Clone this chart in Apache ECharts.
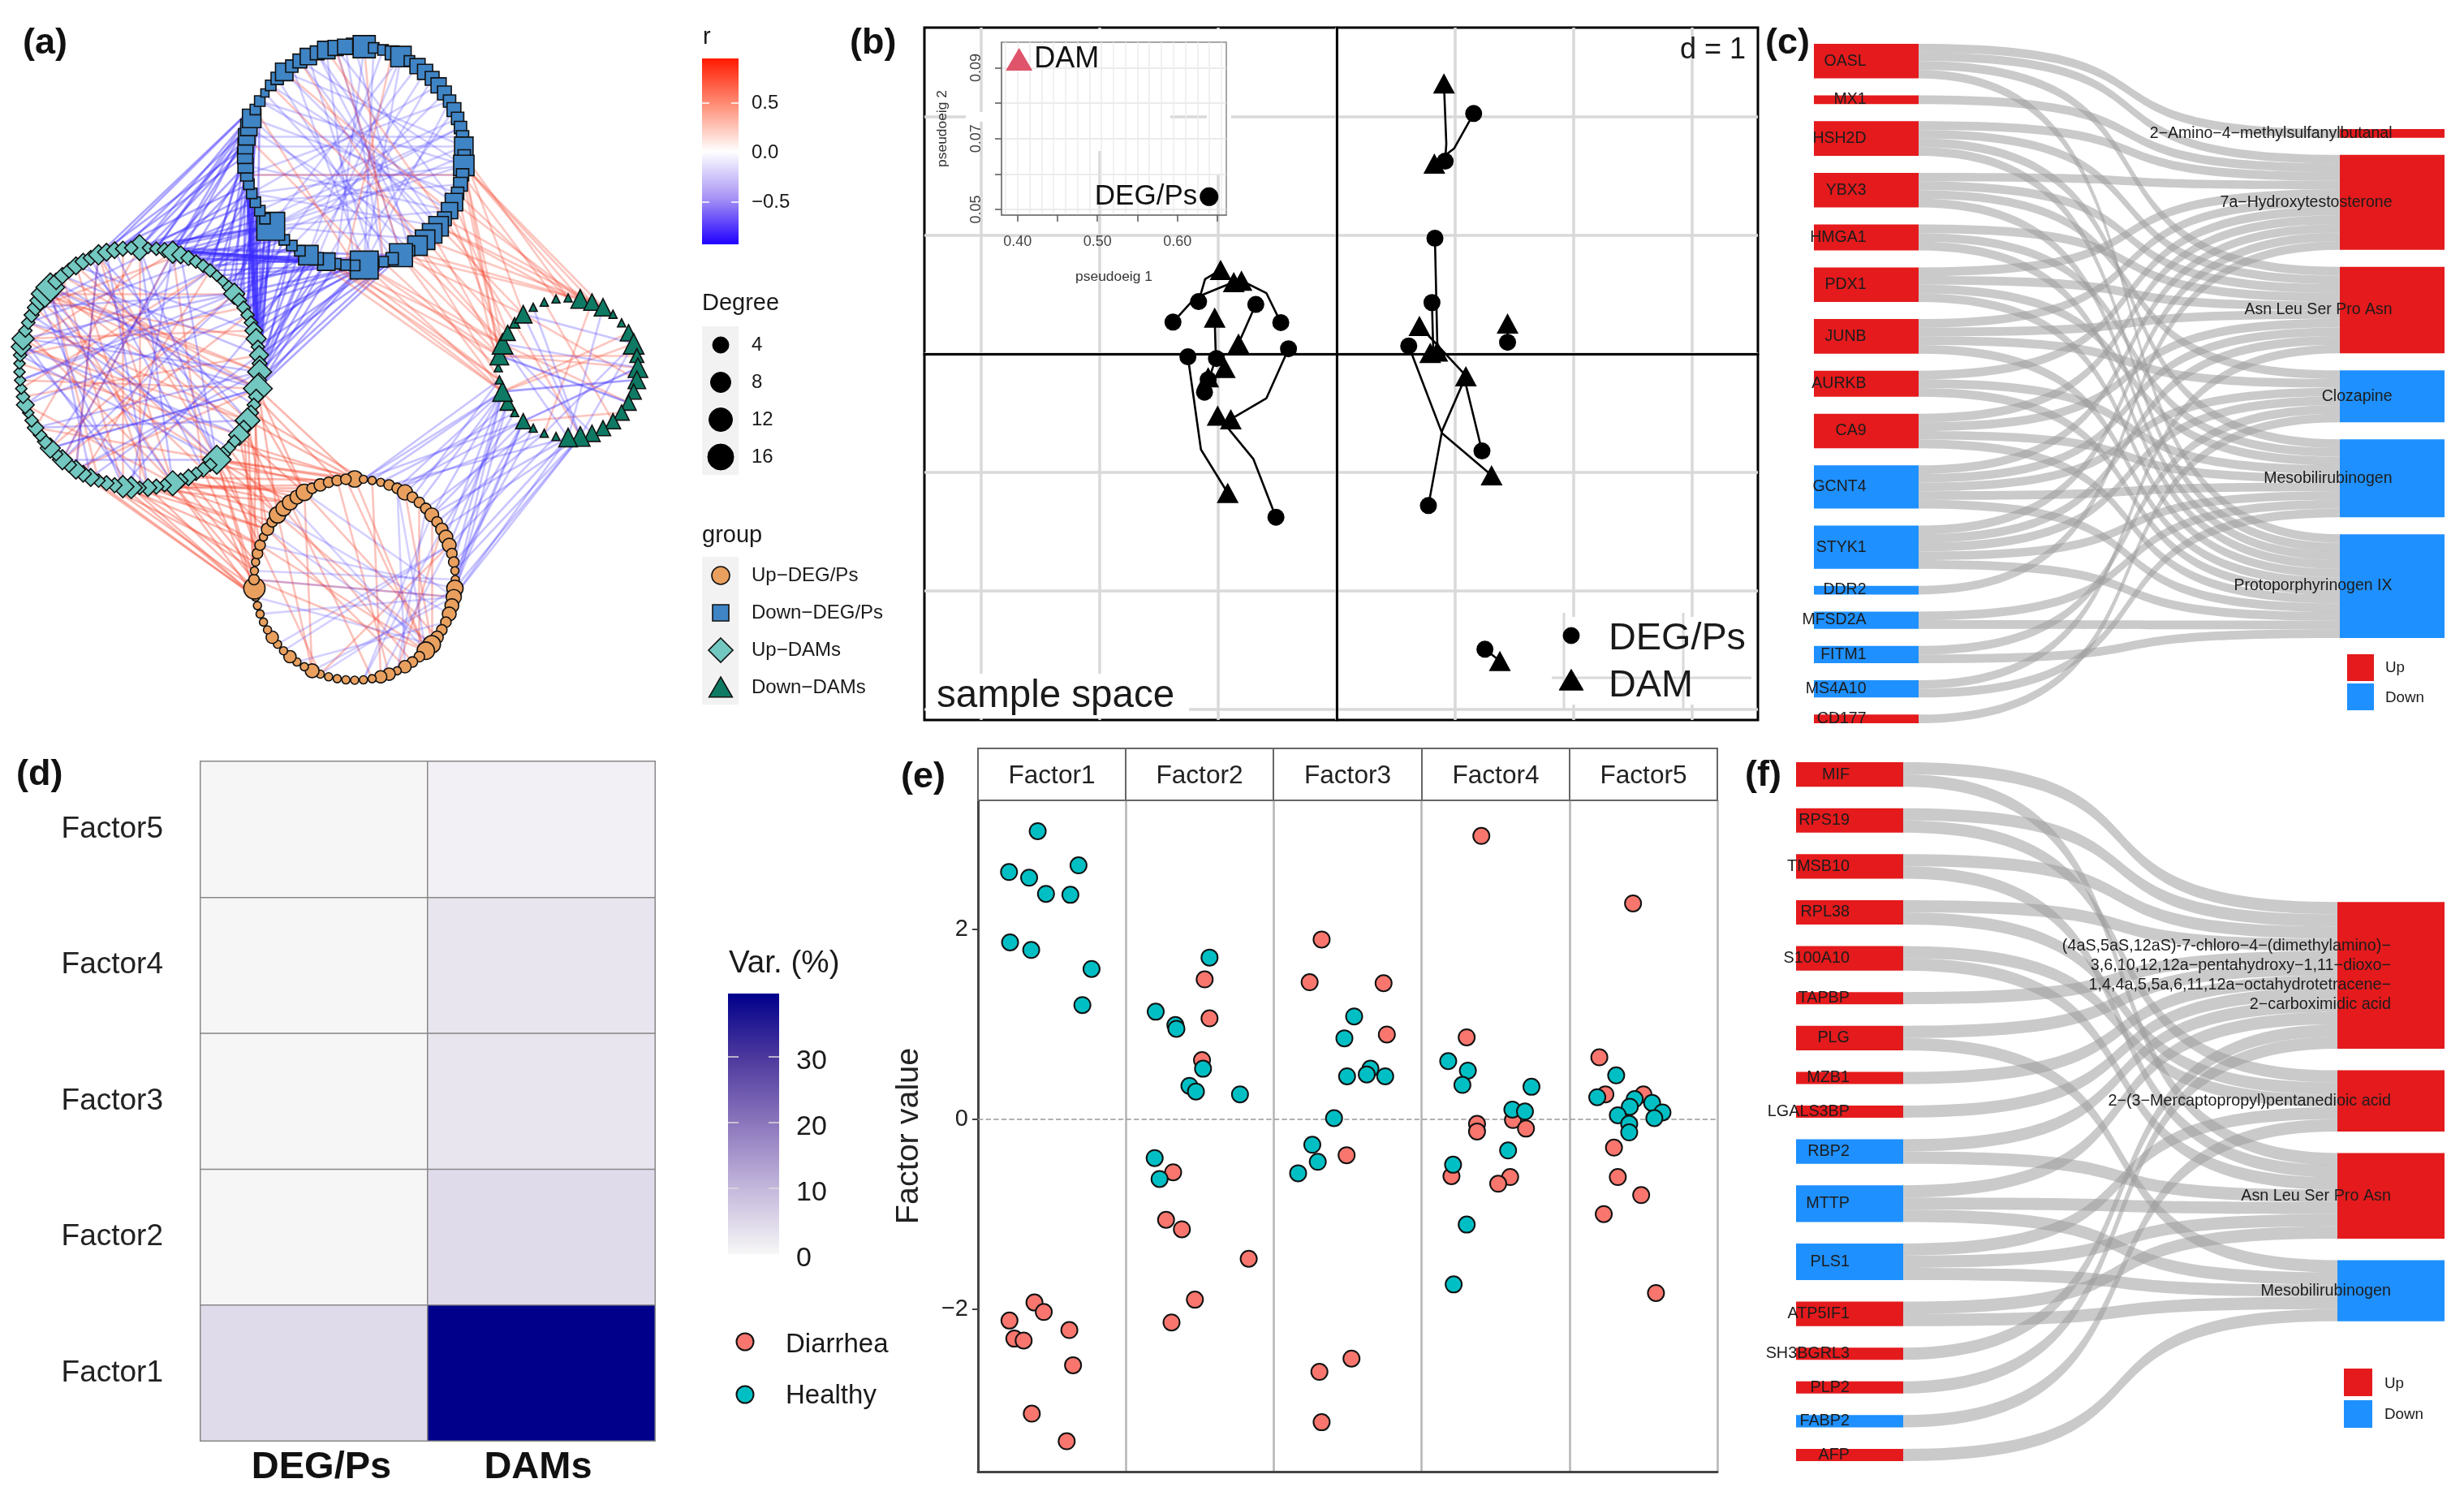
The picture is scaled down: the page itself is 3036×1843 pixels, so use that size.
<!DOCTYPE html>
<html><head><meta charset="utf-8">
<style>html,body{margin:0;padding:0;background:#fff}#c{width:3036px;height:1843px}</style>
<script src="https://cdn.jsdelivr.net/npm/echarts@6/dist/echarts.min.js"></script>
</head><body><div id="c"></div>
<script>
// ---------- (a) network: node degree around each ring, clockwise from the top
const degreeDownDEG=[6,12,2,2,4,10,2,5,5,4,5,4,3,4,3,3,3,8,3,10,3,4,3,7,6,4,9,9,9,9,2,13,3,2,2,20,2,2,2,7,3,9,2,2,2,3,20,2,2,2,2,2,3,5,5,5,6,6,8,2,2,1,2,3,7,3,4,6,4,7,5,5];
const degreeUpDAM=[14,2,3,4,10,6,4,3,3,3,2,2,3,9,4,3,3,3,6,8,3,7,4,12,4,18,4,3,4,13,4,9,3,3,4,18,3,4,3,5,4,13,3,4,6,3,10,10,4,4,3,6,5,7,4,8,3,8,4,3,5,3,2,6,3,2,2,2,2,3,8,10,3,3,4,5,8,16,18,5,5,4,6,5,4,8,6,5,4,3];
const degreeUpDEG=[6,1,1,1,2,2,5,2,2,2,4,2,3,4,4,2,2,1,1,6,5,4,4,2,2,3,7,7,2,2,3,1,3,3,1,1,1,1,1,1,1,4,1,1,3,1,1,3,1,1,1,1,1,11,2,1,1,2,2,1,3,2,6,5,5,4,6,2,3,2,2,2];
const degreeDownDAM=[1,8,6,7,1,1,6,10,4,9,7,5,5,5,5,5,6,9,8,1,1,1,5,1,5,9,1,1,8,10,5,2,7,1,1,1];
// edges as flat pairs of ring positions
const edgesBlueTeal=[31,2,31,8,31,15,31,21,31,25,32,24,33,13,33,20,33,4,34,17,35,1,35,4,35,6,35,10,35,14,35,18,35,22,35,25,35,23,36,9,37,19,38,25,38,6,39,0,39,5,39,12,39,21,39,24,40,3,41,7,41,13,41,18,41,23,41,25,42,1,42,22,43,11,44,16,45,8,45,18,46,0,46,2,46,4,46,5,46,9,46,12,46,15,46,18,46,21,46,23,46,25,46,87,47,20,47,2,47,24,48,3,49,14,49,0,49,21,50,8,50,24,51,86,51,7,51,12,52,10,52,19,53,6,53,25,53,3,54,22,54,87,54,15,55,1,55,17,55,85,56,13,56,4,56,20,57,5,57,21,57,88,58,11,58,23,59,0,59,4,59,16,60,86,60,9,60,85,60,14,60,2,60,19,37,3,37,11,40,17,40,23,43,20,43,25,44,5,44,9,48,13,48,22,50,1,50,16,52,4,52,25,55,9,55,23,56,0,58,2,58,18];
const edgesBlueGreen=[18,32,18,0,19,1,19,2,19,3,19,29,19,28,20,35,20,28,22,0,22,27,23,30,23,1,24,29,25,3,25,31,26,32,26,3,26,0,27,28,28,2,28,30,29,26,29,29,30,29,30,1,31,25,31,28,31,32,31,2,33,27,35,25,35,28,35,29,37,26,38,25,38,29,39,28,39,26,41,25];
const edgesTealUpDEG=[25,62,25,0,25,66,26,70,27,59,28,1,29,54,29,60,29,0,30,63,31,58,31,66,32,0,33,1,34,57,35,52,35,54,35,58,35,62,35,64,35,68,35,71,35,0,36,69,37,60,38,65,39,56,39,70,40,55,41,52,41,54,41,62,41,66,42,61,43,58,44,53,44,60,44,68,45,67,46,52,46,55,46,60,47,52,47,58,47,64,49,53,51,52,51,56,53,52,26,54,27,66,30,52,33,62,37,53,40,64];
const edgesUpDEGGreen=[1,25,1,26,1,22,2,25,3,23,4,18,5,25,5,22,5,20,6,24,7,26,8,25,9,21,10,22,10,25,10,18,11,20,12,17,12,23,13,25,14,19,14,24,15,22,16,18,16,25,17,17,17,21,18,22,19,17,19,25,19,22,20,18,20,24,20,17];
const withinBlueNeg=[0,30,2,35,5,40,5,46,7,44,10,50,12,52,14,48,17,55,17,46,19,60,19,50,22,58,23,62,26,64,26,50,27,66,29,68,31,70,31,58,35,5,35,12,35,65,38,1,41,8,46,15,46,19,46,24,46,28,52,20,56,16,60,24,64,17,66,19,70,23,68,26,71,33,3,41,9,39,11,43,13,37,15,47,18,45,21,49,24,53,28,57,30,61,32,63,34,67,36,69];
const withinBluePos=[69,25,66,29,70,31,59,36,56,34,62,28,1,33,64,24,4,37,52,20];
const withinTealPos=[0,45,78,30,77,25,71,35,85,41,82,44,78,41,77,23,76,19,70,29,75,37,80,47,4,55,78,50,85,53,71,18,77,13,75,5,0,60,70,4,66,25,64,21,60,35,57,13,55,16,53,25,52,9,85,35,82,29,80,25,78,23,76,35,73,29,72,41,69,15,68,31,65,9,63,41,88,47,4,37];
const withinTealNeg=[0,41,4,46,13,55,5,57,87,35,78,25,77,35,71,23,71,13,70,31,85,29,82,18,80,21,75,13,73,25,69,35,66,13,63,9,60,23,57,25,55,4,53,85,51,78,47,76,46,71,44,70,41,77,35,0,35,5,35,55,29,60,25,57,23,53,21,51,18,47,16,63,14,66,9,69,7,73,2,75,86,44,84,37,83,31,79,27,74,33];
const withinUpDEGPos=[62,26,62,41,66,41,0,27,66,25,54,27,60,30,58,40,64,34,70,32,6,26,10,26,14,40,54,20,2,33,71,27,63,29,8,28,12,31,58,27];
const withinUpDEGNeg=[54,20,5,30,10,35,14,45,20,50,19,40,26,60,27,64,33,14,22,62,20,66,19,58,18,55,26,52,27,5,31,9,35,12,41,20,43,23,46,14];
const withinGreenPos=[29,12,28,9,25,7,32,10,22,13,34,14,31,17,2,20,6,25,8,28];
const withinGreenNeg=[29,9,25,10,28,12,22,9,32,7,33,17,20,7,18,29,16,29,17,32,3,18,10,25,9,22,7,17,12,28];
const rTicks=[0.5,0,-0.5];
const degreeKeys=[4,8,12,16];
const groupNames=['Up−DEG/Ps','Down−DEG/Ps','Up−DAMs','Down−DAMs'];

// ---------- (b) co-inertia sample space
const degPsPoints=[[-1.166,0.441],[-1.382,0.268],[-0.472,0.264],[-0.683,0.417],[-1.116,-0.323],[-1.015,-0.039],[-1.085,-0.217],[-0.407,0.043],[-1.256,-0.024],[-0.513,-1.378],[1.156,2.028],[0.915,1.626],[0.829,0.976],[0.804,0.433],[1.226,-0.819],[0.774,-1.280],[0.608,0.067],[1.442,0.098],[1.251,-2.492]];
const damPoints=[[-0.980,0.709],[-0.869,0.606],[-0.804,0.618],[-0.829,0.087],[-1.030,0.307],[-0.945,-0.118],[-1.085,-0.197],[-0.894,-0.551],[-0.920,-1.173],[-1.005,-0.520],[0.824,1.606],[0.905,2.283],[0.849,0.020],[0.789,0.008],[0.698,0.236],[1.090,-0.189],[1.307,-1.024],[1.442,0.256],[1.377,-2.591]];
const pairBends=[[-1.111,0.630],[-1.196,0.472],[-0.593,0.512],null,[-1.020,-0.039],null,null,[-0.593,-0.374],[-1.146,-0.807],[-0.704,-0.886],[0.990,1.732],[0.925,1.772],[0.849,0.079],[0.814,0.059],[1.065,-0.157],[0.889,-0.650],[0.889,-0.669],null,null];
const gridUnitsX=[-3,-2,-1,0,1,2,3];
const gridUnitsY=[-3,-2,-1,0,1,2];
const eigDAM=[0.402,0.0924];
const eigDEG=[0.6396,0.0536];
const eigTicksX=[0.40,0.45,0.50,0.55,0.60,0.65];
const eigLabelsX=[0.40,0.50,0.60];
const eigTicksY=[0.05,0.06,0.07,0.08,0.09];
const eigLabelsY=[0.05,0.07,0.09];
const eigFaintX=[0.385,0.4,0.415,0.43,0.445,0.46,0.475,0.49,0.505,0.52,0.535,0.55,0.565,0.58,0.595,0.61,0.625,0.64,0.655];

// ---------- (c) sankey
const genesC=['OASL','MX1','HSH2D','YBX3','HMGA1','PDX1','JUNB','AURKB','CA9','GCNT4','STYK1','DDR2','MFSD2A','FITM1','MS4A10','CD177'];
const genesCDown=['GCNT4','STYK1','DDR2','MFSD2A','FITM1','MS4A10'];
const metabC=['2−Amino−4−methylsulfanylbutanal','7a−Hydroxytestosterone','Asn Leu Ser Pro Asn','Clozapine','Mesobilirubinogen','Protoporphyrinogen IX'];
const metabCDown=['Clozapine','Mesobilirubinogen','Protoporphyrinogen IX'];
const targetsC=[[0,1,2,5],[1],[1,2,4,5],[1,2,3,5],[2,4,5],[1,2,4,5],[1,2,3,5],[1,4,5],[1,2,4,5],[1,2,3,4,5],[1,2,3,4,5],[1],[4,5],[3,5],[2,4],[3]];

// ---------- (d) variance heatmap
const factorNames=['Factor1','Factor2','Factor3','Factor4','Factor5'];
const viewNames=['DEG/Ps','DAMs'];
const varDEG=[4.3,0.1,0.1,0.1,0.1];
const varDAM=[38.5,4.3,2.7,2.8,1];
const varTicks=[0,10,20,30];

// ---------- (e) factor values: position across the strip, value
const diarrheaPts=[[0.382,-1.93],[0.445,-2.03],[0.213,-2.12],[0.246,-2.31],[0.309,-2.33],[0.618,-2.22],[0.643,-2.59],[0.364,-3.10],[0.6,-3.39],
[1.533,1.47],[1.566,1.06],[1.515,0.62],[1.32,-0.56],[1.272,-1.06],[1.379,-1.16],[1.831,-1.47],[1.467,-1.90],[1.309,-2.14],
[2.324,1.89],[2.243,1.44],[2.743,1.43],[2.765,0.89],[2.493,-0.38],[2.526,-2.52],[2.309,-2.66],[2.324,-3.19],
[3.404,2.98],[3.305,0.86],[3.375,-0.05],[3.375,-0.13],[3.618,-0.01],[3.706,-0.10],[3.202,-0.60],[3.599,-0.61],[3.518,-0.68],
[4.43,2.27],[4.202,0.65],[4.243,0.26],[4.5,0.26],[4.301,-0.30],[4.327,-0.61],[4.485,-0.80],[4.232,-1.0],[4.585,-1.83]];
const healthyPts=[[0.404,3.03],[0.21,2.60],[0.346,2.54],[0.46,2.37],[0.625,2.36],[0.68,2.67],[0.217,1.86],[0.36,1.78],[0.768,1.58],[0.706,1.20],
[1.566,1.70],[1.202,1.13],[1.335,0.99],[1.342,0.95],[1.522,0.53],[1.43,0.35],[1.474,0.29],[1.772,0.26],[1.195,-0.41],[1.228,-0.63],
[2.544,1.08],[2.478,0.85],[2.654,0.53],[2.629,0.47],[2.496,0.45],[2.754,0.45],[2.408,0.01],[2.261,-0.27],[2.298,-0.45],[2.165,-0.57],
[3.18,0.61],[3.313,0.51],[3.276,0.36],[3.743,0.34],[3.614,0.10],[3.699,0.08],[3.585,-0.33],[3.213,-0.48],[3.305,-1.11],[3.217,-1.74],
[4.316,0.46],[4.188,0.23],[4.441,0.21],[4.559,0.17],[4.408,0.13],[4.327,0.04],[4.629,0.07],[4.574,0.01],[4.404,-0.05],[4.404,-0.14]];
const factorTicks=[-2,0,2];
const stripEdges=[1,2,3,4,5];

// ---------- (f) sankey
const genesF=['MIF','RPS19','TMSB10','RPL38','S100A10','TAPBP','PLG','MZB1','LGALS3BP','RBP2','MTTP','PLS1','ATP5IF1','SH3BGRL3','PLP2','FABP2','AFP'];
const genesFDown=['RBP2','MTTP','PLS1','FABP2'];
const metabF=['(4aS,5aS,12aS)-7-chloro−4−(dimethylamino)−\n3,6,10,12,12a−pentahydroxy−1,11−dioxo−\n1,4,4a,5,5a,6,11,12a−octahydrotetracene−\n2−carboximidic acid','2−(3−Mercaptopropyl)pentanedioic acid','Asn Leu Ser Pro Asn','Mesobilirubinogen'];
const metabFDown=['Mesobilirubinogen'];
const targetsF=[[0,2],[0,1],[0,2],[0,1],[1,2],[0],[0,3],[0],[0],[0,2],[0,2,3],[1,2,3],[2,3],[0],[0],[1],[3]];

// ---------- styling / layout
const FONT='Liberation Sans', INK='#1a1a1a', RED='#E41A1C', BLUE='#1E90FF';
const ORANGE='#E9A05F', STEEL='#3F84C4', TEAL='#72C8C0', GREEN='#0E7A64';
const COLD='#3A2CFF', HOT='#F4442E', DIAR='#F8766D', HEAL='#00BFC4';
const heatColors=['#f7f7f7','#c4b8dc','#8c77bd','#4e3a9e','#00008b'];
const sizeOf=d=>3+7*Math.sqrt(d);

// ring helper: places nodes evenly on a circle
const rings=[
 {deg:degreeDownDEG,cx:437,cy:192,r:135,sym:'rect',color:STEEL},
 {deg:degreeUpDAM,cx:172,cy:453,r:148,sym:'diamond',color:TEAL},
 {deg:degreeUpDEG,cx:437,cy:714,r:124,sym:'circle',color:ORANGE},
 {deg:degreeDownDAM,cx:700,cy:453,r:86,sym:'triangle',color:GREEN}];
let off=0; const nodes=[];
rings.forEach(g=>{g.off=off;g.deg.forEach((d,i)=>{const a=i/g.deg.length*2*Math.PI;
 nodes.push({value:[g.cx+g.r*Math.sin(a),g.cy-g.r*Math.cos(a)],symbol:g.sym,symbolSize:g.sym==='diamond'?sizeOf(d)*1.08:sizeOf(d),itemStyle:{color:g.color,borderColor:'#111',borderWidth:1.6}});});off+=g.deg.length;});
const links=[];
function addEdges(arr,a,b,col,op){for(let i=0;i<arr.length;i+=2)links.push({source:rings[a].off+arr[i],target:rings[b].off+arr[i+1],lineStyle:{color:col,opacity:op,width:2.6,curveness:0}});}
addEdges(edgesBlueTeal,0,1,COLD,.42);addEdges(edgesBlueGreen,0,3,HOT,.3);addEdges(edgesTealUpDEG,1,2,HOT,.38);addEdges(edgesUpDEGGreen,2,3,COLD,.28);
addEdges(withinBlueNeg,0,0,COLD,.24);addEdges(withinBluePos,0,0,HOT,.3);addEdges(withinTealPos,1,1,HOT,.32);addEdges(withinTealNeg,1,1,COLD,.3);
addEdges(withinUpDEGPos,2,2,HOT,.32);addEdges(withinUpDEGNeg,2,2,COLD,.22);addEdges(withinGreenPos,3,3,HOT,.3);addEdges(withinGreenNeg,3,3,COLD,.26);

// sankey builder
function sankey(genes,genesDown,metab,metabDown,targets,box,gap,fs){
 const counts=metab.map((_,m)=>targets.reduce((s,t)=>s+t.filter(x=>x===m).length,0));
 const total=counts.reduce((a,b)=>a+b,0);
 const unit=(box.height-(genes.length-1)*gap)/total;
 const colH=total*unit+(metab.length-1)*gap;
 let y=(box.height-colH)/2;
 const lab={position:'inside',align:'right',color:'#1c1c1c',fontSize:fs,fontFamily:FONT,lineHeight:fs*1.2,padding:[3,0,0,0]};
 const data=genes.map(n=>({name:n,depth:0,itemStyle:{color:genesDown.includes(n)?BLUE:RED},label:lab}));
 metab.forEach((n,m)=>{data.push({name:n,depth:1,localY:y/box.height,itemStyle:{color:metabDown.includes(n)?BLUE:RED},label:lab});y+=counts[m]*unit+gap;});
 const ls=[];targets.forEach((t,g)=>t.forEach(m=>ls.push({source:genes[g],target:metab[m],value:1})));
 return {type:'sankey',...box,nodeWidth:box.nw,nodeGap:gap,layoutIterations:0,orient:'horizontal',draggable:false,silent:true,
  emphasis:{disabled:true},data,links:ls,label:lab,itemStyle:{borderWidth:0},lineStyle:{color:'#9a9a9a',opacity:.52,curveness:.7}};
}

// b line series: circle -> optional bend -> triangle, broken between pairs
const pairLines=[];
degPsPoints.forEach((c,i)=>{pairLines.push(c);if(pairBends[i])pairLines.push(pairBends[i]);pairLines.push(damPoints[i]);pairLines.push([c[0],'-']);});

// graphic helpers
const T=(text,x,y,size,o={})=>({type:'text',z:10,silent:true,style:Object.assign({text,x,y,fontSize:size,fontFamily:FONT,fill:INK,align:'left',textAlign:'left',verticalAlign:'middle',textVerticalAlign:'middle'},o)});
const R=(x,y,w,h,fill,z=10,extra={})=>({type:'rect',z,silent:true,shape:{x,y,width:w,height:h},style:Object.assign({fill},extra)});
const L=(x1,y1,x2,y2,stroke,w,z=10)=>({type:'line',z,silent:true,shape:{x1,y1,x2,y2},style:{stroke,lineWidth:w}});
const Tri=(x,y,s,fill,stroke,lw)=>({type:'polygon',z:10,silent:true,shape:{points:[[x,y-s*.5],[x+s*.55,y+s*.45],[x-s*.55,y+s*.45]]},style:{fill,stroke,lineWidth:lw}});
const Circ=(x,y,r,fill,stroke,lw)=>({type:'circle',z:10,silent:true,shape:{cx:x,cy:y,r},style:{fill,stroke,lineWidth:lw}});
const G=[];
[['(a)',28,54],['(b)',1047,54],['(c)',2175,54],['(d)',20,955],['(e)',1110,958],['(f)',2150,956]].forEach(p=>G.push(T(p[0],p[1],p[2],45,{fontWeight:'bold',fill:'#111'})));

// a legends
G.push(T('r',866,46,29));
G.push(R(865,72,45,229,new echarts.graphic.LinearGradient(0,0,0,1,[{offset:0,color:'#ff1a00'},{offset:.25,color:'#ff8f78'},{offset:.5,color:'#ffffff'},{offset:.75,color:'#a894f5'},{offset:1,color:'#2000ff'}])));
rTicks.forEach(v=>{const y=188-v*122;G.push(L(865,y,874,y,'#fff',1.5),L(901,y,910,y,'#fff',1.5),T((v<0?'−':'')+Math.abs(v).toFixed(1),926,y,24));});
G.push(T('Degree',865,374,29),R(865,402,45,183,'#f2f2f2'));
degreeKeys.forEach((d,i)=>{const y=425+i*46;G.push(Circ(888,y,[10,12.5,14.5,16][i],'#000','#000',1),T(String(d),926,y,24));});
G.push(T('group',865,660,29),R(865,686,45,182,'#f2f2f2'));
groupNames.forEach((n,i)=>G.push(T(n,926,709+i*46,24)));
G.push(Circ(888,709,11,ORANGE,'#111',1.6),R(878,745,20,20,STEEL,10,{stroke:'#111',lineWidth:1.6}));
G.push({type:'polygon',z:10,silent:true,shape:{points:[[888,786],[903,801],[888,816],[873,801]]},style:{fill:TEAL,stroke:'#111',lineWidth:1.6}});
G.push(Tri(888,847,26,GREEN,'#111',1.6));

// b masks, fragments and labels
const grey='#d9d9d9';
G.push(R(1190,138,252,12,'#fff',1),R(1227,34+2,175,150,'#fff',1),R(1487,36,30,180,'#fff',1));
G.push(R(1141,830,324,55,'#fff',1),R(1902,760,262,108,'#fff',1));
G.push(L(1927,755,1927,875,grey,3,1),L(2074,755,2074,875,grey,3,1),L(1912,835,2158,835,grey,3,1));
G.push(T('d = 1',2151,62,36,{align:'right',textAlign:'right'}),T('sample space',1154,858,47.5));
G.push(Circ(1936,783,10,'#000','#000',1),Tri(1936,838,27,'#000','#000',1),T('DEG/Ps',1982,787,46.8),T('DAM',1982,845,46.8));

// c, f legends
G.push(R(2892,806,33,33,RED),R(2892,842,33,33,BLUE),T('Up',2939,823,18.8),T('Down',2939,860,18.8));
G.push(R(2888,1686,35,34,RED),R(2888,1725,35,34,BLUE),T('Up',2938,1705,18.8),T('Down',2938,1743,18.8));

// d legend
const vy=v=>1545-v*8.1;
G.push(T('Var. (%)',898,1187,38.6));
G.push(R(897,1224,63,321,new echarts.graphic.LinearGradient(0,1,0,0,heatColors.map((c,i)=>({offset:i/4,color:c})))));
varTicks.forEach(v=>{const y=vy(v);if(v)G.push(L(897,y,910,y,'#ddd',1.5),L(947,y,960,y,'#ddd',1.5));G.push(T(String(v),981,y+6,34));});
G.push(Circ(918,1653,10.5,DIAR,'#111',2),T('Diarrhea',968,1657,33),Circ(918,1718,10.5,HEAL,'#111',2),T('Healthy',968,1720,33));

// e strips
const sx=[1205,1387,1569,1752,1934,2116];
factorNames.forEach((n,i)=>{G.push(R(sx[i],922,sx[i+1]-sx[i],64,'#fff',10,{stroke:'#666',lineWidth:2}),T(n,(sx[i]+sx[i+1])/2,956,31.6,{align:'center',textAlign:'center',fill:'#222'}));});

const noAxis={show:false};
const op1={opacity:1};
const option={
 animation:false,backgroundColor:'#fff',textStyle:{fontFamily:FONT},
 grid:[
  {left:0,top:0,width:640,height:900},
  {left:1139,top:34,width:1027,height:853,show:true,borderColor:'#000',borderWidth:3,backgroundColor:'#fff',containLabel:false},
  {left:1234,top:52,width:277,height:213,z:3,show:true,borderColor:'#8a8a8a',borderWidth:1.5,backgroundColor:'transparent'},
  {left:247,top:938,width:560,height:837},
  {left:1205,top:986,width:911,height:827}],
 xAxis:[
  {gridIndex:0,type:'value',min:0,max:640,...noAxis},
  {gridIndex:1,type:'value',min:-3.48,max:3.555,axisLine:{show:true,onZero:true,lineStyle:{color:'#000',width:3}},axisTick:{show:false,customValues:gridUnitsX},axisLabel:{show:false,customValues:gridUnitsX},splitLine:{show:true,lineStyle:{color:grey,width:3.5}}},
  {gridIndex:2,type:'value',z:3,min:0.38,max:0.6612,axisLine:{show:true,onZero:false,lineStyle:{color:'#777',width:1.5}},axisTick:{show:true,length:8,customValues:eigTicksX,lineStyle:{color:'#555',width:1.5}},axisLabel:{customValues:eigLabelsX,formatter:v=>v.toFixed(2),fontSize:18,color:'#444',margin:24},splitLine:{show:false},name:'pseudoeig 1',nameLocation:'middle',nameGap:76,nameTextStyle:{fontSize:17.4,color:'#333',verticalAlign:'middle'}},
  {gridIndex:2,type:'value',z:3,min:0.38,max:0.6612,axisLine:{show:false},axisTick:{show:false,customValues:eigFaintX},axisLabel:{show:false,customValues:eigFaintX},splitLine:{show:true,lineStyle:{color:'#ececec',width:1.5}}},
  {gridIndex:3,type:'category',data:[{value:viewNames[0],textStyle:{padding:[0,0,0,18]}},{value:viewNames[1],textStyle:{padding:[0,8,0,0]}}],axisLine:{show:false},axisTick:{show:false},axisLabel:{fontSize:47,fontWeight:'bold',color:'#111',margin:10}},
  {gridIndex:4,type:'value',min:0,max:5,axisLine:{show:true,onZero:false,lineStyle:{color:'#444',width:3}},axisTick:{show:false,customValues:stripEdges},axisLabel:{show:false,customValues:stripEdges},splitLine:{show:true,lineStyle:{color:'#b5b5b5',width:2.5}}}],
 yAxis:[
  {gridIndex:0,type:'value',min:0,max:900,inverse:true,...noAxis},
  {gridIndex:1,type:'value',min:-3.089,max:2.753,axisLine:{show:true,onZero:true,lineStyle:{color:'#000',width:3}},axisTick:{show:false,customValues:gridUnitsY},axisLabel:{show:false,customValues:gridUnitsY},splitLine:{show:true,lineStyle:{color:grey,width:3.5}}},
  {gridIndex:2,type:'value',z:3,min:0.0484,max:0.0972,axisLine:{show:true,onZero:false,lineStyle:{color:'#777',width:1.5}},axisTick:{show:true,length:8,customValues:eigTicksY,lineStyle:{color:'#555',width:1.5}},axisLabel:{customValues:eigLabelsY,formatter:v=>v.toFixed(2),fontSize:18,color:'#444',margin:22,rotate:90},splitLine:{show:true,lineStyle:{color:'#e4e4e4',width:1.5}},name:'pseudoeig 2',nameLocation:'middle',nameGap:73,nameRotate:90,nameTextStyle:{fontSize:17.4,color:'#333',verticalAlign:'middle'}},
  {gridIndex:3,type:'category',data:factorNames,axisLine:{show:false},axisTick:{show:false},axisLabel:{fontSize:37,color:'#222',margin:46,padding:[8,0,0,0]}},
  {gridIndex:4,type:'value',min:-3.71,max:3.354,axisLine:{show:true,onZero:false,lineStyle:{color:'#444',width:3}},axisTick:{show:true,length:7,customValues:factorTicks,lineStyle:{color:'#444',width:2}},axisLabel:{customValues:factorTicks,formatter:v=>(v<0?'−':'')+Math.abs(v),fontSize:29,color:'#222',margin:12},splitLine:{show:false},name:'Factor value',nameLocation:'middle',nameGap:85,nameTextStyle:{fontSize:39.5,color:'#222',verticalAlign:'middle'}}],
 visualMap:{show:false,seriesIndex:6,dimension:2,min:0,max:38.5,inRange:{color:heatColors}},
 series:[
  {type:'graph',coordinateSystem:'cartesian2d',xAxisIndex:0,yAxisIndex:0,layout:'none',silent:true,data:nodes,links:links,edgeSymbol:['none','none'],z:2},
  {type:'line',xAxisIndex:1,yAxisIndex:1,data:pairLines,showSymbol:false,symbol:'none',lineStyle:{color:'#000',width:2.6},silent:true,z:2},
  {type:'scatter',xAxisIndex:1,yAxisIndex:1,data:degPsPoints,symbol:'circle',symbolSize:21,itemStyle:{color:'#000',...op1},silent:true,z:3},
  {type:'scatter',xAxisIndex:1,yAxisIndex:1,data:damPoints,symbol:'triangle',symbolSize:[27,25],itemStyle:{color:'#000',...op1},silent:true,z:3},
  {type:'scatter',xAxisIndex:2,yAxisIndex:2,data:[eigDAM],symbol:'triangle',symbolSize:[33,28],itemStyle:{color:'#DF536B',...op1},silent:true,z:5,label:{show:true,position:'right',distance:2,formatter:'DAM',fontSize:36,color:'#111'}},
  {type:'scatter',xAxisIndex:2,yAxisIndex:2,data:[eigDEG],symbol:'circle',symbolSize:23,itemStyle:{color:'#000',...op1},silent:true,z:5,label:{show:true,position:'left',distance:3,formatter:'DEG/Ps',fontSize:35,color:'#111'}},
  {type:'heatmap',xAxisIndex:4,yAxisIndex:3,silent:true,data:varDEG.map((v,i)=>[0,i,v]).concat(varDAM.map((v,i)=>[1,i,v])),itemStyle:{borderColor:'#888',borderWidth:1.5}},
  {type:'scatter',xAxisIndex:5,yAxisIndex:4,data:diarrheaPts,symbol:'circle',symbolSize:20,silent:true,itemStyle:{color:DIAR,borderColor:'#111',borderWidth:2,...op1},z:3,markLine:{silent:true,symbol:'none',label:{show:false},lineStyle:{color:'#999',type:'dashed',width:1.6},data:[{yAxis:0}],z:2}},
  {type:'scatter',xAxisIndex:5,yAxisIndex:4,data:healthyPts,symbol:'circle',symbolSize:20,silent:true,itemStyle:{color:HEAL,borderColor:'#111',borderWidth:2,...op1},z:4},
  sankey(genesC,genesCDown,metabC,metabCDown,targetsC,{left:2235,top:54,width:777,height:837,nw:129},21,19.5),
  sankey(genesF,genesFDown,metabF,metabFDown,targetsF,{left:2213,top:939,width:799,height:861,nw:132},26.5,19.8)
 ],
 graphic:{elements:G}
};
const chart=echarts.init(document.getElementById('c'),null,{renderer:'canvas',width:3036,height:1843});
chart.setOption(option);
</script></body></html>
